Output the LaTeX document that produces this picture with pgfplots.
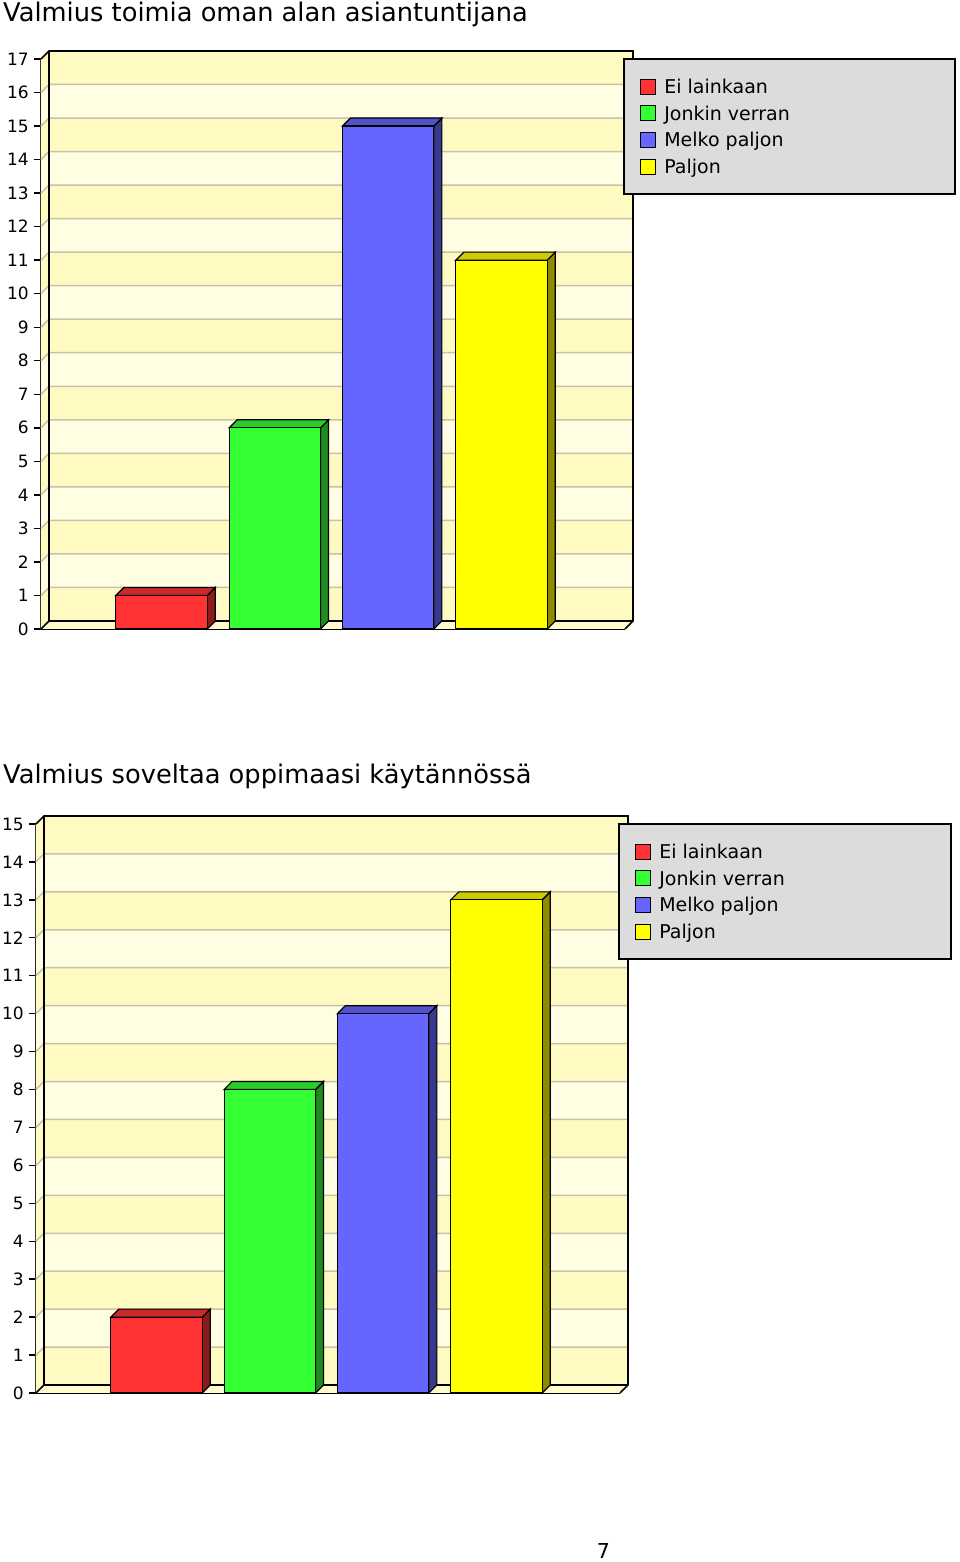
\documentclass[border=0pt]{standalone}
\usepackage{fontspec}
\setmainfont{DejaVu Sans}
\usepackage{pgfplots}
\pgfplotsset{compat=1.18}

\definecolor{bandD}{HTML}{FFF9C2}
\definecolor{bandL}{HTML}{FFFDE2}
\definecolor{floorC}{HTML}{FFFBCC}
\definecolor{gridC}{HTML}{C6C3AA}
\definecolor{legbg}{HTML}{DCDCDC}
\definecolor{cRed}{HTML}{FF3333}
\definecolor{cRedT}{HTML}{CC2929}
\definecolor{cRedS}{HTML}{8C1C1C}
\definecolor{cGreen}{HTML}{33FF33}
\definecolor{cGreenT}{HTML}{29CC29}
\definecolor{cGreenS}{HTML}{1C8C1C}
\definecolor{cBlue}{HTML}{6666FF}
\definecolor{cBlueT}{HTML}{5252CC}
\definecolor{cBlueS}{HTML}{38388C}
\definecolor{cYel}{HTML}{FFFF00}
\definecolor{cYelT}{HTML}{CCCC00}
\definecolor{cYelS}{HTML}{8C8C00}

\newcommand\tickfont{\fontsize{17pt}{17pt}\selectfont}
\newcommand\legfont{\fontsize{19pt}{19pt}\selectfont}
\newcommand\titlefont{\fontsize{25.7pt}{25.7pt}\selectfont}

% x range of the front box, depth offset in x
\def\xlo{-1.0633}
\def\xhi{4.0898}
\def\ddx{0.0706}

\pgfplotsset{
  chart3d/.style={
    scale only axis, width=584pt,
    xmin=\xlo, xmax=\xhi, ymin=0,
    clip=false,
    axis x line*=bottom, axis y line*=left,
    axis line style={-, line width=1.6pt},
    xtick=\empty,
    tick align=outside, major tick length=7pt,
    tick style={black, line width=1.4pt},
    yticklabel style={font=\tickfont, inner sep=0pt, xshift=-5pt},
    /pgf/number format/assume math mode=true,
    legend style={at={(1.0247,0.966)}, anchor=north west, draw=none, fill=none,
      inner sep=0pt, row sep=7.8pt, column sep=8.5pt, font=\legfont,
      cells={anchor=base west},
      nodes={inner sep=0pt, text height=14.3pt, text depth=4pt}},
    legend image code/.code={\draw[##1,draw=black,line width=1.2pt] (0pt,-0.7pt) rectangle (15pt,14.3pt);},
  },
  bar3d/.style={ybar, bar width=0.807, bar shift=0pt, draw=black, line width=1.2pt},
  face/.style={draw=black, line width=1.2pt, forget plot},
}

\begin{document}
\begin{tikzpicture}
\path (0,0) rectangle (960pt,1562pt);

\node[anchor=base west, inner sep=0pt, font=\titlefont] at (3pt,1540pt) {Valmius toimia oman alan asiantuntijana};
\node[anchor=base west, inner sep=0pt, font=\titlefont] at (3pt,778.7pt) {Valmius soveltaa oppimaasi käytännössä};
\node[anchor=base, inner sep=0pt, font=\fontsize{20.5pt}{20.5pt}\selectfont] at (603.5pt,3pt) {7};

% ---------- chart 1 ----------
\def\ddy{0.239}
\begin{axis}[chart3d, at={(41pt,933pt)}, anchor=south west, height=570pt,
  ymax=17, ytick={0,...,17}]
  \fill[bandL] (axis cs:{\xlo+\ddx},\ddy) rectangle (axis cs:{\xhi+\ddx},{17+\ddy});
  \pgfplotsinvokeforeach{0,2,...,16}{
    \fill[bandD] (axis cs:{\xlo+\ddx},{#1+\ddy}) rectangle (axis cs:{\xhi+\ddx},{#1+1+\ddy});
  }
  \fill[bandL] (axis cs:\xlo,0) -- (axis cs:{\xlo+\ddx},\ddy) -- (axis cs:{\xlo+\ddx},{17+\ddy}) -- (axis cs:\xlo,17) -- cycle;
  \pgfplotsinvokeforeach{0,2,...,16}{
    \fill[bandD] (axis cs:\xlo,#1) -- (axis cs:{\xlo+\ddx},{#1+\ddy}) -- (axis cs:{\xlo+\ddx},{#1+1+\ddy}) -- (axis cs:\xlo,{#1+1}) -- cycle;
  }
  \fill[floorC] (axis cs:\xlo,0) -- (axis cs:\xhi,0) -- (axis cs:{\xhi+\ddx},\ddy) -- (axis cs:{\xlo+\ddx},\ddy) -- cycle;
  \pgfplotsinvokeforeach{1,...,16}{
    \draw[gridC, line width=1.5pt] (axis cs:\xlo,#1) -- (axis cs:{\xlo+\ddx},{#1+\ddy}) -- (axis cs:{\xhi+\ddx},{#1+\ddy});
  }
  \draw[line width=1.6pt] (axis cs:\xlo,17) -- (axis cs:{\xlo+\ddx},{17+\ddy}) -- (axis cs:{\xhi+\ddx},{17+\ddy}) -- (axis cs:{\xhi+\ddx},\ddy) -- (axis cs:\xhi,0);
  \draw[line width=1.6pt] (axis cs:{\xlo+\ddx},{17+\ddy}) -- (axis cs:{\xlo+\ddx},\ddy) -- (axis cs:{\xhi+\ddx},\ddy);
  \draw[line width=1.6pt] (axis cs:\xlo,0) -- (axis cs:{\xlo+\ddx},\ddy);
  \draw[fill=legbg, line width=1.6pt] (rel axis cs:0.9983,1) rectangle (rel axis cs:1.5651,0.7632);

  \addplot[face, fill=cRedS] coordinates {(0.4035,0) (0.4741,0.239) (0.4741,1.239) (0.4035,1)} -- cycle;
  \addplot[face, fill=cRedT] coordinates {(-0.4035,1) (0.4035,1) (0.4741,1.239) (-0.3329,1.239)} -- cycle;
  \addplot[bar3d, fill=cRed] coordinates {(0,1)};
  \addplot[face, fill=cGreenS] coordinates {(1.4035,0) (1.4741,0.239) (1.4741,6.239) (1.4035,6)} -- cycle;
  \addplot[face, fill=cGreenT] coordinates {(0.5965,6) (1.4035,6) (1.4741,6.239) (0.6671,6.239)} -- cycle;
  \addplot[bar3d, fill=cGreen] coordinates {(1,6)};
  \addplot[face, fill=cBlueS] coordinates {(2.4035,0) (2.4741,0.239) (2.4741,15.239) (2.4035,15)} -- cycle;
  \addplot[face, fill=cBlueT] coordinates {(1.5965,15) (2.4035,15) (2.4741,15.239) (1.6671,15.239)} -- cycle;
  \addplot[bar3d, fill=cBlue] coordinates {(2,15)};
  \addplot[face, fill=cYelS] coordinates {(3.4035,0) (3.4741,0.239) (3.4741,11.239) (3.4035,11)} -- cycle;
  \addplot[face, fill=cYelT] coordinates {(2.5965,11) (3.4035,11) (3.4741,11.239) (2.6671,11.239)} -- cycle;
  \addplot[bar3d, fill=cYel] coordinates {(3,11)};
  \legend{Ei lainkaan, Jonkin verran, Melko paljon, Paljon}
\end{axis}

% ---------- chart 2 ----------
\def\ddy{0.211}
\begin{axis}[chart3d, at={(36pt,169pt)}, anchor=south west, height=569pt,
  ymax=15, ytick={0,...,15}]
  \fill[bandL] (axis cs:{\xlo+\ddx},\ddy) rectangle (axis cs:{\xhi+\ddx},{15+\ddy});
  \pgfplotsinvokeforeach{0,2,...,14}{
    \fill[bandD] (axis cs:{\xlo+\ddx},{#1+\ddy}) rectangle (axis cs:{\xhi+\ddx},{#1+1+\ddy});
  }
  \fill[bandL] (axis cs:\xlo,0) -- (axis cs:{\xlo+\ddx},\ddy) -- (axis cs:{\xlo+\ddx},{15+\ddy}) -- (axis cs:\xlo,15) -- cycle;
  \pgfplotsinvokeforeach{0,2,...,14}{
    \fill[bandD] (axis cs:\xlo,#1) -- (axis cs:{\xlo+\ddx},{#1+\ddy}) -- (axis cs:{\xlo+\ddx},{#1+1+\ddy}) -- (axis cs:\xlo,{#1+1}) -- cycle;
  }
  \fill[floorC] (axis cs:\xlo,0) -- (axis cs:\xhi,0) -- (axis cs:{\xhi+\ddx},\ddy) -- (axis cs:{\xlo+\ddx},\ddy) -- cycle;
  \pgfplotsinvokeforeach{1,...,14}{
    \draw[gridC, line width=1.5pt] (axis cs:\xlo,#1) -- (axis cs:{\xlo+\ddx},{#1+\ddy}) -- (axis cs:{\xhi+\ddx},{#1+\ddy});
  }
  \draw[line width=1.6pt] (axis cs:\xlo,15) -- (axis cs:{\xlo+\ddx},{15+\ddy}) -- (axis cs:{\xhi+\ddx},{15+\ddy}) -- (axis cs:{\xhi+\ddx},\ddy) -- (axis cs:\xhi,0);
  \draw[line width=1.6pt] (axis cs:{\xlo+\ddx},{15+\ddy}) -- (axis cs:{\xlo+\ddx},\ddy) -- (axis cs:{\xhi+\ddx},\ddy);
  \draw[line width=1.6pt] (axis cs:\xlo,0) -- (axis cs:{\xlo+\ddx},\ddy);
  \draw[fill=legbg, line width=1.6pt] (rel axis cs:0.9983,1) rectangle (rel axis cs:1.5668,0.7627);

  \addplot[face, fill=cRedS] coordinates {(0.4035,0) (0.4741,0.211) (0.4741,2.211) (0.4035,2)} -- cycle;
  \addplot[face, fill=cRedT] coordinates {(-0.4035,2) (0.4035,2) (0.4741,2.211) (-0.3329,2.211)} -- cycle;
  \addplot[bar3d, fill=cRed] coordinates {(0,2)};
  \addplot[face, fill=cGreenS] coordinates {(1.4035,0) (1.4741,0.211) (1.4741,8.211) (1.4035,8)} -- cycle;
  \addplot[face, fill=cGreenT] coordinates {(0.5965,8) (1.4035,8) (1.4741,8.211) (0.6671,8.211)} -- cycle;
  \addplot[bar3d, fill=cGreen] coordinates {(1,8)};
  \addplot[face, fill=cBlueS] coordinates {(2.4035,0) (2.4741,0.211) (2.4741,10.211) (2.4035,10)} -- cycle;
  \addplot[face, fill=cBlueT] coordinates {(1.5965,10) (2.4035,10) (2.4741,10.211) (1.6671,10.211)} -- cycle;
  \addplot[bar3d, fill=cBlue] coordinates {(2,10)};
  \addplot[face, fill=cYelS] coordinates {(3.4035,0) (3.4741,0.211) (3.4741,13.211) (3.4035,13)} -- cycle;
  \addplot[face, fill=cYelT] coordinates {(2.5965,13) (3.4035,13) (3.4741,13.211) (2.6671,13.211)} -- cycle;
  \addplot[bar3d, fill=cYel] coordinates {(3,13)};
  \legend{Ei lainkaan, Jonkin verran, Melko paljon, Paljon}
\end{axis}
\end{tikzpicture}
\end{document}
